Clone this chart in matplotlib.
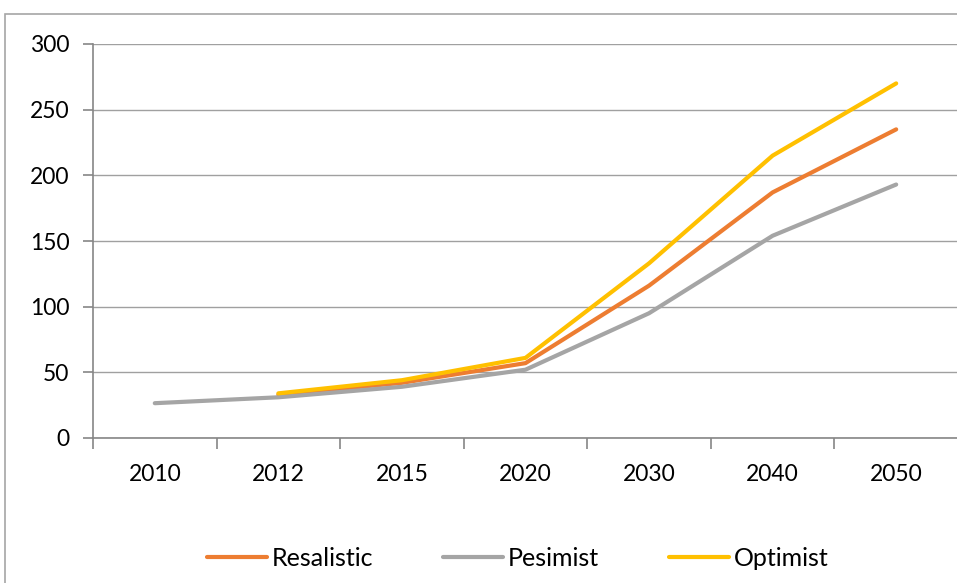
import numpy as np
import matplotlib.pyplot as plt
from matplotlib.patches import Rectangle

plt.rcParams['font.family'] = ['Lato', 'DejaVu Sans']

# Datos
years = ['2010', '2012', '2015', '2020', '2030', '2040', '2050']
realistic = [np.nan, 33, 42, 57, 116, 187, 235]
pesimist = [26.5, 31, 39, 52, 95, 154, 193]
optimist = [np.nan, 34, 44, 61, 133, 215, 270]

x = np.arange(len(years))

fig = plt.figure(figsize=(9.57, 5.83), dpi=100)
# marco exterior del grafico
fig.patches.append(Rectangle((5 / 957, -0.05), 1.0, 1 - 14 / 583 + 0.05,
                             transform=fig.transFigure, fill=False,
                             edgecolor='#a6a6a6', linewidth=1.2))

ax = fig.add_axes([93 / 957, 1 - 438 / 583, 1 - 93 / 957 + 0.001, 394 / 583])

ax.plot(x, realistic, color='#ed7d31', linewidth=3, label='Resalistic', solid_capstyle='round')
ax.plot(x, pesimist, color='#a5a5a5', linewidth=3, label='Pesimist', solid_capstyle='round')
ax.plot(x, optimist, color='#ffc000', linewidth=3, label='Optimist', solid_capstyle='round')

ax.set_xlim(-0.5, len(years) - 0.5)
ax.set_ylim(0, 300)
ax.set_yticks(range(0, 301, 50))
ax.set_xticks(x)
ax.set_xticklabels(years)
ax.set_xticks(np.arange(-0.5, len(years)), minor=True)

ax.grid(axis='y', color='#a0a0a0', linewidth=1.0)
ax.set_axisbelow(True)
for s in ['top', 'right']:
    ax.spines[s].set_visible(False)
for s in ['left', 'bottom']:
    ax.spines[s].set_color('#868686')
    ax.spines[s].set_linewidth(1.2)

ax.tick_params(axis='x', which='major', length=0, pad=19, labelsize=16.5)
ax.tick_params(axis='x', which='minor', length=8, color='#868686', width=1.2)
ax.tick_params(axis='y', length=7, color='#868686', width=1.2, labelsize=16.5, pad=10)

fig.legend(loc='center', bbox_to_anchor=(0.541, 1 - 558 / 583), ncol=3, frameon=False,
           fontsize=18, handlelength=2.4, handletextpad=0.2, columnspacing=2.8)

plt.savefig('out.png', dpi=100)
